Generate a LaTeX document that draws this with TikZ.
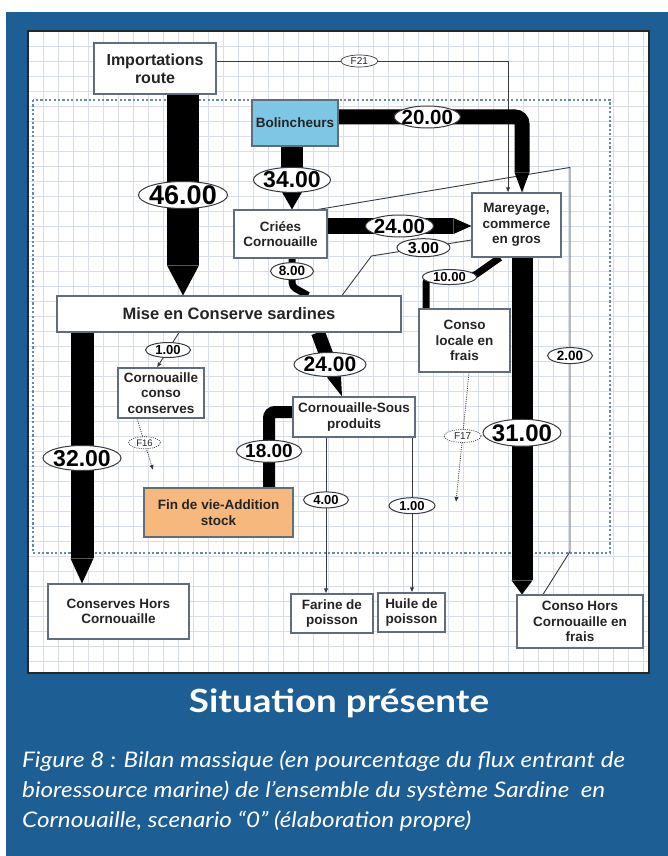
\documentclass[tikz,border=0pt]{standalone}
\usepackage{fontspec}
\setmainfont{Liberation Sans}
\newfontfamily\headfont{Lato}[FakeStretch=1.15]
\newfontfamily\capfont{Lato}[FakeStretch=1.13]
\usetikzlibrary{arrows.meta,shapes.geometric,calc}

\definecolor{panelblue}{RGB}{29,94,148}
\definecolor{gridcol}{RGB}{216,223,234}
\definecolor{boxline}{RGB}{96,110,124}
\definecolor{txt}{RGB}{36,36,36}
\definecolor{zoneline}{RGB}{104,138,166}
\definecolor{fishblue}{RGB}{126,199,228}
\definecolor{stockorange}{RGB}{246,184,124}
\definecolor{thinline}{RGB}{55,58,62}

% value text centred on the node centre, without enlarging the node
\newcommand\ctrtext[1]{\smash{\raisebox{-0.35em}{\makebox[0pt]{#1}}}}

\pgfdeclarelayer{pagelayer}
\pgfdeclarelayer{gridlayer}
\pgfdeclarelayer{flowlayer}
\pgfsetlayers{pagelayer,gridlayer,flowlayer,main}

\tikzset{
  box/.style={draw=boxline, line width=1.1pt, fill=white, text=txt, align=center,
    inner sep=0pt, font=\bfseries\fontsize{13.5}{15.5}\selectfont},
  val/.style n args={3}{ellipse, draw=thinline, line width=1pt, fill=white,
    inner sep=0pt, minimum width=#2, minimum height=#3, text=black,
    font=\bfseries\fontsize{#1}{#1}\selectfont},
  tag/.style n args={3}{ellipse, draw=thinline, line width=0.7pt, fill=white,
    inner sep=0pt, minimum width=#2, minimum height=#3, text=txt,
    font=\fontsize{#1}{#1}\selectfont},
  flow/.style={draw=black, line width=#1, line cap=butt},
  thinlink/.style={draw=thinline, line width=0.9pt},
  thinarrow/.style={thinlink, -{Latex[length=5pt,width=4.5pt]}},
  dotarrow/.style={draw=thinline, line width=0.8pt, dash pattern=on 1pt off 1.2pt,
    -{Latex[length=5pt,width=4.5pt]}},
  capline/.style={anchor=base west, inner sep=0pt, text=white,
    font=\capfont\itshape\fontsize{21.5}{21.5}\selectfont},
}

\begin{document}
\begin{tikzpicture}[x=1pt,y=-1pt]
\useasboundingbox (0,0) rectangle (668,856);

% page and blue panel
\begin{pgfonlayer}{pagelayer}
\fill[white] (0,0) rectangle (668,856);
\fill[panelblue] (6,12) rectangle (668,856);
\end{pgfonlayer}

% drawing sheet with its grid
\begin{pgfonlayer}{gridlayer}
\fill[white] (28,31) rectangle (649,673);
\foreach \gx in {43,58,...,643} \draw[gridcol, line width=0.6pt] (\gx,31) -- (\gx,673);
\foreach \gy in {46,61,...,668} \draw[gridcol, line width=0.6pt] (28,\gy) -- (649,\gy);
\draw[zoneline, line width=1.1pt, dash pattern=on 2.2pt off 2.2pt] (33,100) rectangle (610,553);
\draw[black!85, line width=2.4pt] (28,31) rectangle (649,673);
\end{pgfonlayer}

% boxes
\node[box, minimum width=122pt, minimum height=51pt, font=\bfseries\fontsize{16}{18}\selectfont] (imp) at (155,68.5) {Importations\\route};
\node[box, fill=fishblue, minimum width=86pt, minimum height=46pt] (bol) at (295,123) {Bolincheurs};
\node[box, minimum width=93pt, minimum height=48pt] (cri) at (280.5,234) {Criées\\Cornouaille};
\node[box, minimum width=89pt, minimum height=64pt] (mar) at (516.5,225) {Mareyage,\\commerce\\en gros};
\node[box, minimum width=344pt, minimum height=36pt, font=\bfseries\fontsize{16.5}{18}\selectfont] (mise) at (229,314) {Mise en Conserve sardines};
\node[box, minimum width=86pt, minimum height=50pt] (ccc) at (161,393) {Cornouaille\\conso\\conserves};
\node[box, minimum width=91pt, minimum height=63pt] (clf) at (464.5,340.5) {Conso\\locale en\\frais};
\node[box, minimum width=122pt, minimum height=40pt] (sous) at (354,417) {Cornouaille-Sous\\produits};
\node[box, fill=stockorange, minimum width=149pt, minimum height=49pt] (fin) at (218.5,512.5) {Fin de vie-Addition\\stock};
\node[box, minimum width=141pt, minimum height=55pt] (chc) at (118.5,611.5) {Conserves Hors\\Cornouaille};
\node[box, minimum width=82pt, minimum height=39pt] (far) at (332,613.5) {Farine de\\poisson};
\node[box, minimum width=67pt, minimum height=39pt] (hui) at (411.5,612.5) {Huile de\\poisson};
\node[box, minimum width=126pt, minimum height=53pt] (chf) at (580,621.5) {Conso Hors\\Cornouaille en\\frais};

\coordinate (f16end) at (153,470);
\coordinate (f17end) at (456,502);

\begin{pgfonlayer}{flowlayer}
% thin links
\draw[thinarrow] ([yshift=7.5pt]imp.east) -| node[pos=0.245, tag={10}{37pt}{12pt}] {\ctrtext{F21}} ([xshift=-8.5pt]mar.north);
\draw[thinlink] ([xshift=37.5pt]cri.north) -- ++(252,-42) -- node[pos=0.49, val={13.5}{45pt}{16pt}] {\ctrtext{2.00}} ++(0,384) -- ([xshift=-37pt]chf.north);
\draw[thinlink] ([yshift=-15pt]mar.west) -- node[pos=0.48, val={16}{53pt}{18pt}] {\ctrtext{3.00}} ++(-100,16) -- ([xshift=113pt]mise.north);
\draw[thinarrow] ([xshift=-50pt]mise.south) -- node[val={13}{45pt}{15pt}] {\ctrtext{1.00}} ([xshift=-4pt]ccc.north);
\draw[thinarrow] ([xshift=-28pt]sous.south) -- node[pos=0.4, val={13}{45pt}{16pt}] {\ctrtext{4.00}} ([xshift=-28pt]sous.south |- far.north);
\draw[thinarrow] ([xshift=58pt]sous.south) -- node[pos=0.44, val={13}{46pt}{16pt}] {\ctrtext{1.00}} ([xshift=58pt]sous.south |- hui.north);
\draw[dotarrow] ([xshift=-24pt]ccc.south) -- node[pos=0.47, tag={9.5}{32pt}{12pt}] {\ctrtext{F16}} (f16end);
\draw[dotarrow] ([xshift=4.5pt]clf.south) -- node[pos=0.49, tag={10}{37pt}{13pt}] {\ctrtext{F17}} (f17end);

% mass flows
\draw[flow=32pt, -{Triangle[length=30pt,width=32pt,line width=0pt]}] ([xshift=28pt]imp.south) -- node[val={27}{89pt}{27pt}] {\ctrtext{46.00}} ([xshift=28pt]imp.south |- mise.north);
\draw[flow=15pt, rounded corners=7pt, -{Triangle[length=20pt,width=15pt,line width=0pt]}] ([yshift=6pt]bol.east) -| node[pos=0.242, val={20.5}{66pt}{22pt}] {\ctrtext{20.00}} ([xshift=5.5pt]mar.north);
\draw[flow=22pt, -{Triangle[length=19pt,width=22pt,line width=0pt]}] ([xshift=-3pt]bol.south) -- node[pos=0.53, val={23}{77pt}{25pt}] {\ctrtext{34.00}} ([xshift=-3pt]bol.south |- cri.north);
\draw[flow=16pt, -{Triangle[length=18pt,width=16pt,line width=0pt]}] ([yshift=8pt]cri.east) -- node[val={20.5}{68pt}{22pt}] {\ctrtext{24.00}} ([yshift=8pt]cri.east -| mar.west);
\draw[flow=7pt, rounded corners=4pt] ([xshift=11.5pt]cri.south) -- node[pos=0.45, val={13.5}{43pt}{17pt}] {\ctrtext{8.00}} ++(0,28) -- ([xshift=79pt]mise.north);
\draw[flow=7pt, rounded corners=5pt] ([xshift=-16.5pt]mar.south) -- ++(-27,19) -- node[val={13}{54pt}{15pt}] {\ctrtext{10.00}} ++(-47,1) -- ([xshift=-38.5pt]clf.north);
\draw[flow=21pt, -{Triangle[length=14pt,width=21pt,line width=0pt]}] ([xshift=5.5pt]mar.south) -- node[pos=0.52, val={24}{78pt}{27pt}] {\ctrtext{31.00}} ([xshift=5.5pt]mar.south |- chf.north);
\draw[flow=23pt, -{Triangle[length=25pt,width=23pt,line width=0pt]}] ([xshift=-147pt]mise.south) -- node[val={23}{78pt}{25pt}] {\ctrtext{32.00}} ([xshift=-147pt]mise.south |- chc.north);
\draw[flow=14pt, -{Triangle[length=22pt,width=14pt,line width=0pt]}] ([xshift=89pt]mise.south) -- node[val={21}{72pt}{24pt}] {\ctrtext{24.00}} ([xshift=-12pt]sous.north);
\draw[flow=12pt, rounded corners=6pt] ([yshift=5pt]sous.west) -| node[pos=0.76, val={19}{65pt}{22pt}] {\ctrtext{18.00}} ([xshift=50.5pt]fin.north);
\end{pgfonlayer}

% title and caption
\node[anchor=base, inner sep=0pt, text=white, font=\headfont\bfseries\fontsize{32}{32}\selectfont] (title) at (339,712) {Situation présente};
\node[capline] (cap1) at (22,767) {Figure 8 : Bilan massique (en pourcentage du flux entrant de};
\node[capline] (cap2) at (22,797) {bioressource marine) de l’ensemble du système Sardine~ en};
\node[capline] (cap3) at (22,827) {Cornouaille, scenario “0” (élaboration propre)};
\end{tikzpicture}
\end{document}
